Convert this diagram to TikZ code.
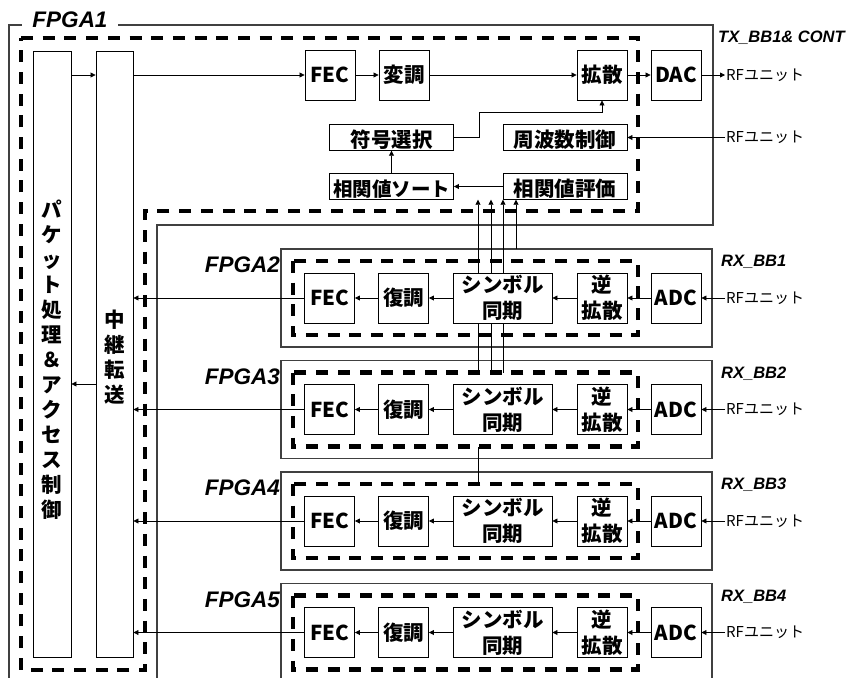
\documentclass[tikz,border=0pt]{standalone}
\usepackage{fontspec}
\setmainfont{Liberation Sans}
\newfontfamily\jp{Noto Sans CJK JP}
\usetikzlibrary{arrows.meta,calc}
\begin{document}
\begin{tikzpicture}[x=1pt,y=-1pt,
  blk/.style={draw=black,line width=0.9pt,fill=white,inner sep=0pt,align=center,font=\jp\bfseries\fontsize{20.5}{26}\selectfont},
  sq/.style={blk,minimum width=50pt,minimum height=50pt},
  wide/.style={blk,minimum width=124pt,minimum height=25pt,text height=23pt,text depth=2.5pt},
  tall/.style={draw=black,line width=0.9pt,fill=white,inner sep=0pt,minimum height=606pt},
  vtxt/.style={align=center,inner sep=0pt,font=\jp\bfseries\fontsize{20.5}{25}\selectfont},
  arr/.style={line width=0.8pt,-{Triangle[length=5pt,width=5pt]}},
  ln/.style={line width=0.8pt},
  outer/.style={draw=black!75,line width=1.1pt},
  dsh/.style={line width=4.5pt,dash pattern=on 12pt off 9.7pt},
  lbl/.style={font=\bfseries\itshape\fontsize{22.5}{25}\selectfont,inner sep=0pt},
  bblbl/.style={font=\bfseries\itshape\fontsize{16.5}{19}\selectfont,inner sep=0pt,anchor=west},
  rf/.style={font=\jp\fontsize{15}{18}\selectfont,inner sep=1pt,anchor=west}
]
\clip (0,0) rectangle (855,678);
\fill[white] (0,0) rectangle (855,678);

% FPGA1 outline
\draw[outer] (9,25) -- (713,25) -- (713,225) -- (157,225) -- (157,700) -- (9,700) -- cycle;
\node[lbl,fill=white,inner xsep=10pt,inner ysep=1pt] (f1) at (70,19.5) {FPGA1};
\draw[dsh] (21,38) -- (638,38) -- (638,211) -- (145,211) -- (145,670) -- (21,670) -- cycle;
\node[bblbl] (txl) at (718,38) {TX\_BB1\& CONT};

% FPGA2-5 outlines
\foreach \k/\t/\r in {2/249,3/360.5,4/472,5/583.5}{}
\foreach \k/\t/\r in {2/249/1,3/360.5/2,4/472/3,5/583.5/4}{
  \draw[outer] (281,\t) rectangle (712,\t+98);
  \draw[dsh] (293,\t+12) rectangle (638,\t+86);
  \node[lbl,anchor=east] (fl\k) at (280,\t+16) {FPGA\k};
  \node[bblbl] (rl\k) at (721,\t+13) {RX\_BB\r};
}

% FPGA1 blocks
\node[tall,minimum width=38pt] (pkt) at (52,354) {};
\node[vtxt] (pkttxt) at (52,360) {パ\\ケ\\ッ\\ト\\処\\理\\＆\\ア\\ク\\セ\\ス\\制\\御};
\node[tall,minimum width=37pt] (relay) at (114.5,354) {};
\node[vtxt] (relaytxt) at (114.5,357.5) {中\\継\\転\\送};

\node[sq] (fecT) at (330,75) {FEC};
\node[sq] (modT) at (404,75) {変調};
\node[sq] (sprT) at (602,75) {拡散};
\node[sq] (dac) at (676,75) {DAC};
\node[wide] (sel) at (391.5,137.5) {符号選択};
\node[wide] (frq) at (565,137.5) {周波数制御};
\node[wide,font=\jp\bfseries\fontsize{19.5}{24}\selectfont] (sort) at (391.5,186.5) {相関値ソート};
\node[wide] (eval) at (565,186.5) {相関値評価};
\node[rf] (rfT) at (725,75) {RFユニット};
\node[rf] (rfF) at (725,137.5) {RFユニット};

\draw[arr] (pkt.east |- fecT.west) -- (relay.west |- fecT.west);
\draw[arr] (relay.east |- fecT.west) -- (fecT.west);
\draw[arr] (fecT) -- (modT);
\draw[arr] (modT) -- (sprT);
\draw[arr] (sprT) -- (dac);
\draw[arr] (dac) -- (rfT.west);
\draw[arr] (rfF.west) -- (frq.east);
\draw[arr] (eval) -- (sort);
\draw[arr] (sort) -- (sel);
\draw[arr] (sel.east) -- ++(25,0) |- ([yshift=-12pt]sprT.south) -- (sprT.south);
\coordinate (r2p) at (0,384);
\draw[arr] (relay.west |- r2p) -- (pkt.east |- r2p);

% correlation lines into evaluation
\coordinate (v1) at (478,372.5);
\coordinate (v2) at (491,372.5);
\coordinate (v3) at (503,372.5);
\coordinate (v4) at (516,249);
\foreach \v in {v1,v2,v3,v4}{\draw[arr] (\v) -- (\v |- eval.south);}
\coordinate (w1) at (478,447);
\coordinate (w2) at (478,483);
\draw[ln] (w1) -- (w2);

% FPGA2-5 blocks
\foreach \k/\t in {2/249,3/360.5,4/472,5/583.5}{
  \node[sq] (fec\k) at (329.5,\t+49) {FEC};
  \node[sq] (dem\k) at (403.5,\t+49) {復調};
  \node[blk,minimum width=99pt,minimum height=50pt] (sym\k) at (502.5,\t+49) {シンボル\\同期};
  \node[sq] (dsp\k) at (602,\t+49) {逆\\拡散};
  \node[sq] (adc\k) at (676,\t+49) {ADC};
  \node[rf] (rfr\k) at (725,\t+49) {RFユニット};
  \draw[arr] (rfr\k.west) -- (adc\k.east);
  \draw[arr] (adc\k) -- (dsp\k);
  \draw[arr] (dsp\k) -- (sym\k);
  \draw[arr] (sym\k) -- (dem\k);
  \draw[arr] (dem\k) -- (fec\k);
  \draw[arr] (fec\k.west) -- (relay.east |- fec\k.west);
}
\end{tikzpicture}
\end{document}
